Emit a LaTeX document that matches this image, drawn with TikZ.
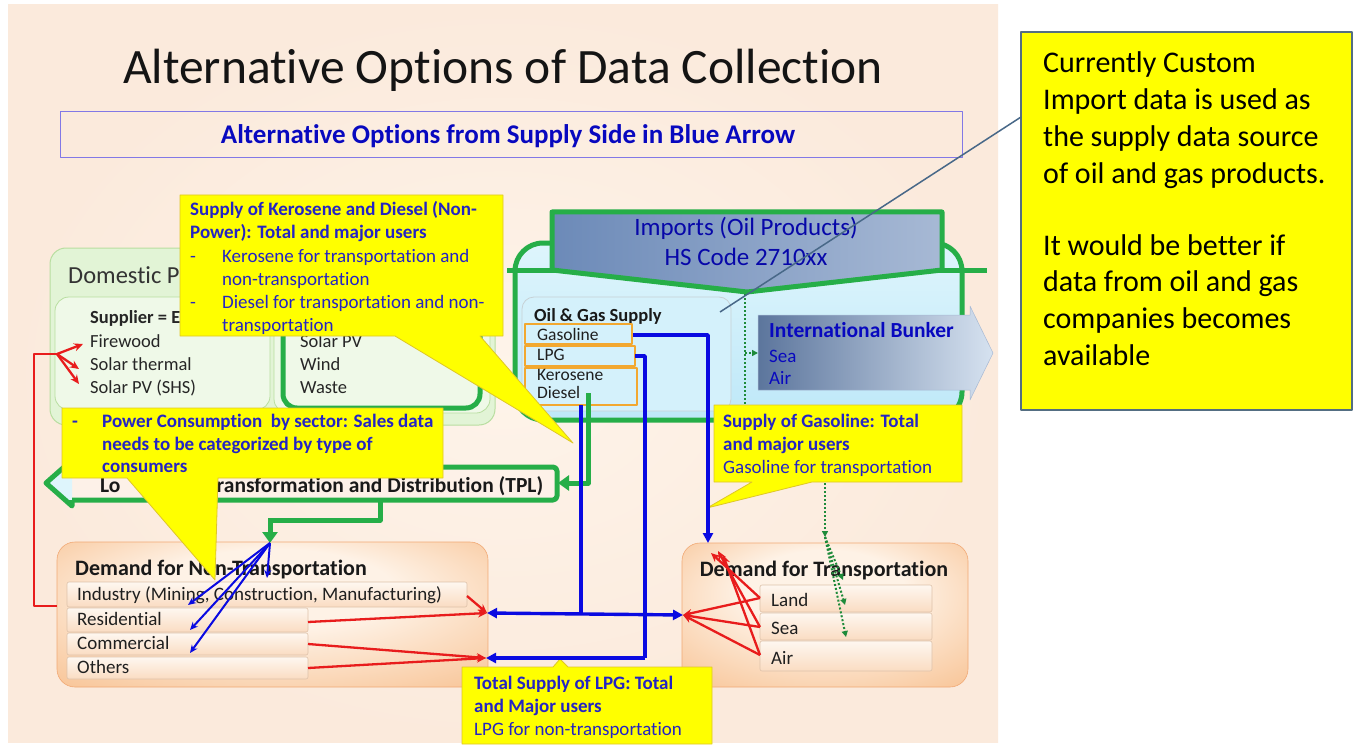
\documentclass[tikz,border=0pt]{standalone}
\usepackage{fontspec}
\setmainfont{Carlito}[Ligatures=NoCommon]
\usetikzlibrary{arrows.meta}
\definecolor{peach}{RGB}{251,234,220}
\definecolor{peachc}{RGB}{254,244,234}
\definecolor{ylw}{RGB}{255,255,0}
\definecolor{ylwb}{RGB}{222,198,40}
\definecolor{txtblue}{RGB}{36,36,196}
\definecolor{arrblue}{RGB}{10,10,225}
\definecolor{grn}{RGB}{38,174,72}
\definecolor{redl}{RGB}{232,28,28}
\definecolor{cyanbox}{RGB}{190,232,248}
\definecolor{cyantop}{RGB}{222,245,252}
\definecolor{cyanin}{RGB}{212,241,251}
\definecolor{ltgreen}{RGB}{226,244,214}
\definecolor{ltgreenb}{RGB}{184,222,160}
\definecolor{dlight}{RGB}{254,242,230}
\definecolor{dmid}{RGB}{248,196,150}
\definecolor{dedge}{RGB}{238,148,82}
\definecolor{rowtop}{RGB}{254,247,240}
\definecolor{rowbot}{RGB}{250,220,194}
\definecolor{rowb}{RGB}{222,194,170}
\definecolor{slate}{RGB}{72,104,136}
\definecolor{impdark}{RGB}{108,138,184}
\definecolor{implight}{RGB}{214,226,240}
\definecolor{boxb}{RGB}{84,110,130}
\definecolor{orgb}{RGB}{242,168,48}
\definecolor{tplfill}{RGB}{253,241,232}
\definecolor{subb}{RGB}{130,120,230}
\pgfdeclareradialshading{dshade}{\pgfpoint{0bp}{12bp}}{color(0bp)=(dlight); color(14bp)=(dlight); color(38bp)=(dmid); color(50bp)=(dedge)}
\begin{document}
\begin{tikzpicture}[x=1pt,y=-1pt,line join=round,
  ycall/.style={fill=ylw, draw=ylwb, line width=0.8pt},
  ct/.style={anchor=base west, inner sep=0pt, text=txtblue, font=\fontsize{19}{23}\selectfont},
  ctb/.style={anchor=base west, inner sep=0pt, text=txtblue, font=\fontsize{19}{23}\selectfont\bfseries},
  blk/.style={anchor=base west, inner sep=0pt, text=black!88, font=\fontsize{19}{22}\selectfont},
  blkd/.style={anchor=base west, inner sep=0pt, text=black!85, font=\fontsize{18.5}{22}\selectfont},
  blkb/.style={anchor=base west, inner sep=0pt, text=black!90, font=\fontsize{22}{26}\selectfont\bfseries},
  notetxt/.style={anchor=base west, inner sep=0pt, text=black, font=\fontsize{30}{37}\selectfont},
  rowbox/.style={top color=rowtop, bottom color=rowbot, draw=rowb, line width=0.6pt, rounded corners=2pt},
  dembox/.style={shading=dshade, draw=dedge!80!white, line width=0.6pt, rounded corners=18pt},
  orgbox/.style={fill=cyanin, draw=orgb, line width=1.6pt},
  garrow/.style={draw=grn, line width=5pt, -{Triangle[length=11pt,width=15pt]}},
  barrow/.style={draw=arrblue, line width=3.4pt},
  bthin/.style={draw=arrblue, line width=2pt, -{Stealth[length=8pt,width=7pt]}},
  bhead/.style={-{Triangle[length=10pt,width=10pt]}},
  rline/.style={draw=redl, line width=2.3pt},
  rhead/.style={-{Stealth[length=9pt,width=8pt]}},
  gdot/.style={draw=grn!80!black, line width=2pt, dotted},
  ghead/.style={-{Triangle[length=6pt,width=6pt]}},
]
\useasboundingbox (0,0) rectangle (1357,746);
\fill[white] (0,0) rectangle (1357,746);
\shade[inner color=peachc, outer color=peach] (8,5) rectangle (998,742);

% title
\node[anchor=base, inner sep=0pt, font=\fontsize{49.5}{58}\selectfont, text=black!92] (title) at (503,84) {Alternative Options of Data Collection};
\draw[subb, line width=1pt] (60,112) rectangle (962,158);
\node[anchor=base, inner sep=0pt, font=\fontsize{27}{32}\selectfont\bfseries, text=arrblue!85!black] (sub) at (508,144) {Alternative Options from Supply Side in Blue Arrow};

% domestic production
\draw[fill=ltgreen, draw=ltgreenb, line width=1pt, rounded corners=16pt] (50,248) rectangle (495,425);
\node[anchor=base west, inner sep=0pt, font=\fontsize{24.5}{28}\selectfont, text=black!80] (dom) at (68,283) {Domestic P};
\draw[fill=ltgreen!55!white, draw=ltgreenb, line width=0.8pt, rounded corners=14pt] (55,297) rectangle (270,410);
\draw[fill=ltgreen!55!white, draw=ltgreenb, line width=0.8pt, rounded corners=14pt] (274,297) rectangle (490,413);
\draw[grn, line width=5pt, rounded corners=14pt] (283,300) rectangle (480,408);
\node[blkd, font=\fontsize{18.5}{22}\selectfont\bfseries] (sup) at (90,323) {Supplier = E};
\node[blkd] (fw) at (90,347) {Firewood};
\node[blkd] (st) at (90,370) {Solar thermal};
\node[blkd] (spv) at (90,393) {Solar PV (SHS)};
\node[blkd] (spv2) at (300,347) {Solar PV};
\node[blkd] (wind) at (300,370) {Wind};
\node[blkd] (waste) at (300,393) {Waste};

% imports
\path[draw=grn, line width=5pt, top color=cyantop, bottom color=cyanbox, rounded corners=28pt] (515,243) rectangle (962,420);
\draw[grn, line width=5pt] (507,270) -- (987,270);
\path[draw=grn, line width=5pt, left color=impdark, middle color=white, right color=impdark!60!white] (552,212) -- (942,212) -- (942,270) -- (747,292) -- (552,270) -- cycle;
\coordinate (vtip) at (745,294);
\node[anchor=base, inner sep=0pt, font=\fontsize{25}{29}\selectfont, text=arrblue!75!black] (imp1) at (746,236) {Imports (Oil Products)};
\node[anchor=base, inner sep=0pt, font=\fontsize{25}{29}\selectfont, text=arrblue!75!black] (imp2) at (746,265) {HS Code 2710xx};

\draw[fill=cyanin, draw=cyanbox!60!black!40!white, line width=0.8pt, rounded corners=12pt] (522,297) rectangle (731,411);
\node[anchor=base west, inner sep=0pt, text=black!90, font=\fontsize{18.5}{22}\selectfont\bfseries] (ogs) at (534,321) {Oil \& Gas Supply};
\draw[orgbox] (525,368) rectangle (637,405);
\node[blk, font=\fontsize{17.5}{21}\selectfont] (kero) at (537,380) {Kerosene};
\node[blk, font=\fontsize{17.5}{21}\selectfont] (dies) at (537,398) {Diesel};
\draw[orgbox] (525,346) rectangle (635,366);
\node[blk, font=\fontsize{17.5}{21}\selectfont] (lpg) at (537,360) {LPG};
\draw[orgbox] (525,324) rectangle (632,344);
\node[blk, font=\fontsize{17.5}{21}\selectfont] (gas) at (537,340) {Gasoline};

% bunker
\path[left color=impdark!85!black, right color=implight, draw=impdark!60!white, line width=0.5pt] (758,315) -- (970,315) -- (970,306) -- (993,353) -- (970,400) -- (970,390) -- (758,390) -- cycle;
\coordinate (bunkw) at (758,353);
\node[ctb, font=\fontsize{21.5}{26}\selectfont\bfseries, text=arrblue!85!black] (ib) at (769,337) {International Bunker};
\node[ct, text=arrblue!85!black] (sea0) at (769,362) {Sea};
\node[ct, text=arrblue!85!black] (air0) at (769,384) {Air};
\draw[gdot] (vtip) -- (745,405);
\draw[gdot, ghead] (745,353) -- (bunkw);

% TPL bar
\path[fill=tplfill] (557,467) -- (72,467) -- (72,500) -- (557,500) -- cycle;
\path[fill=cyantop] (72,460) -- (46,483) -- (72,506) -- cycle;
\draw[grn, line width=5pt, rounded corners=4pt] (72,467) -- (557,467) -- (557,500) -- (72,500);
\draw[grn, line width=5pt] (72,467) -- (72,460) -- (46,483) -- (72,506) -- (72,500);
\node[anchor=base west, inner sep=0pt, text=black!90, font=\fontsize{21.5}{24}\selectfont\bfseries] (tpl0) at (100,492) {Lo};
\node[anchor=base west, inner sep=0pt, text=black!90, font=\fontsize{21.5}{24}\selectfont\bfseries] (tpl) at (207,492) {Transformation and Distribution (TPL)};

% demand boxes
\path[dembox] (57,542) rectangle (488,687);
\node[blkb] (dnt) at (75,575) {Demand for Non-Transportation};
\draw[rowbox] (67,582) rectangle (467,607);
\node[blk] (ind) at (77,600) {Industry (Mining, Construction, Manufacturing)};
\draw[rowbox] (67,608) rectangle (308,632);
\node[blk] (res) at (77,625) {Residential};
\draw[rowbox] (67,633) rectangle (308,655);
\node[blk] (com) at (77,649) {Commercial};
\draw[rowbox] (67,657) rectangle (308,679);
\node[blk] (oth) at (77,673) {Others};

\path[dembox] (682,543) rectangle (968,687);
\node[blkb, anchor=base] (dt) at (824,576) {Demand for Transportation};
\draw[rowbox] (760,585) rectangle (932,612);
\node[blk] (land) at (771,606) {Land};
\draw[rowbox] (760,613) rectangle (932,640);
\node[blk] (sea) at (771,634) {Sea};
\draw[rowbox] (760,641) rectangle (932,671);
\node[blk] (air) at (771,664) {Air};

% named points
\coordinate (rn1) at (487,613);
\coordinate (rn2) at (486,658);
\coordinate (rt) at (683,615);
\coordinate (fan) at (57,354);
\coordinate (gtip) at (270,543);

% green dotted to transport
\draw[gdot, ghead] (825,483) -- (825,537);
\draw[gdot, ghead] (825,537) -- (843,580);
\draw[gdot, ghead] (825,537) -- (845,605);
\draw[gdot, ghead] (825,537) -- (846,637);

% green arrows
\draw[garrow] (588,393) -- (588,483) -- (558,483);
\draw[garrow, -] (380,500) -- (380,520) -- (270,520) -- (270,530);
\draw[garrow] (270,518) -- (gtip);

% red lines
\draw[rline] (57,606) -- (34,606) -- (34,354) -- (fan);
\draw[rline, rhead] (fan) -- (83,344);
\draw[rline, rhead] (fan) -- (79,369);
\draw[rline, rhead] (fan) -- (79,384);
\draw[rline, rhead] (467,596) -- (rn1);
\draw[rline, rhead] (308,622) -- (rn1);
\draw[rline, rhead] (308,644) -- (rn2);
\draw[rline, rhead] (308,668) -- (rn2);
\draw[rline, rhead] (760,598) -- (rt);
\draw[rline, rhead] (760,627) -- (rt);
\draw[rline, rhead] (760,655) -- (rt);
\draw[rline, rhead] (760,598) -- (711,553);
\draw[rline, rhead] (760,627) -- (718,551);
\draw[rline, rhead] (760,655) -- (723,555);

% callouts
\path[ycall] (180,195) -- (503,195) -- (503,336) -- (480,336) -- (573,443) -- (395,336) -- (180,336) -- cycle;
\node[ctb] (k1) at (190,215) {Supply of Kerosene and Diesel (Non-};
\node[ctb] (k2) at (190,238) {Power): Total and major users};
\node[ct] (k3a) at (190,262) {-};
\node[ct] (k3) at (222,262) {Kerosene for transportation and};
\node[ct] (k4) at (222,285) {non-transportation};
\node[ct] (k5a) at (190,308) {-};
\node[ct] (k5) at (222,308) {Diesel for transportation and non-};
\node[ct] (k6) at (222,331) {transportation};

\path[ycall] (62,408) -- (443,408) -- (443,478) -- (218,478) -- (215,580) -- (127,478) -- (62,478) -- cycle;
\node[ctb] (p0) at (72,427) {-};
\node[ctb] (p1) at (102,427) {Power Consumption\ \ by sector: Sales data};
\node[ctb] (p2) at (102,450) {needs to be categorized by type of};
\node[ctb] (p3) at (102,472) {consumers};

\path[ycall] (714,405) -- (962,405) -- (962,482) -- (812,482) -- (707,508) -- (752,482) -- (714,482) -- cycle;
\node[ctb] (g1) at (723,427) {Supply of Gasoline: Total};
\node[ctb] (g2) at (723,450) {and major users};
\node[ct] (g3) at (723,473) {Gasoline for transportation};

\path[ycall] (462,667) -- (553,667) -- (560,659) -- (568,667) -- (712,667) -- (712,744) -- (462,744) -- cycle;
\node[ctb] (l1) at (474,689) {Total Supply of LPG: Total};
\node[ctb] (l2) at (474,712) {and Major users};
\node[ct] (l3) at (474,735) {LPG for non-transportation};

% blue arrows
\draw[barrow, bhead] (633,335) -- (708,335) -- (708,543);
\draw[barrow] (635,356) -- (645,356) -- (645,658);
\draw[barrow, bhead] (645,658) -- (rn2);
\draw[barrow] (581,405) -- (581,613);
\draw[barrow, {Triangle[length=10pt,width=10pt]}-{Triangle[length=10pt,width=10pt]}] (rn1) -- (rt);
\draw[bthin] (gtip) -- (188,605);
\draw[bthin] (gtip) -- (190,630);
\draw[bthin] (gtip) -- (190,653);
\draw[bthin] (gtip) -- (267,578);

% note box
\node[draw=boxb, line width=2pt, fill=ylw, minimum width=331pt, minimum height=378pt, inner sep=0pt] (note) at (1186.5,221) {};
\foreach \s [count=\i from 0] in {Currently Custom, Import data is used as, the supply data source, of oil and gas products.}
  \node[notetxt] (na\i) at (1043,{73+36.7*\i}) {\s};
\foreach \s [count=\i from 0] in {It would be better if, data from oil and gas, companies becomes, available}
  \node[notetxt] (nb\i) at (1043,{255+36.7*\i}) {\s};
\coordinate (noteptr) at (1021,117);
\draw[slate, line width=1.5pt] (noteptr) -- (720,312);
\end{tikzpicture}
\end{document}
